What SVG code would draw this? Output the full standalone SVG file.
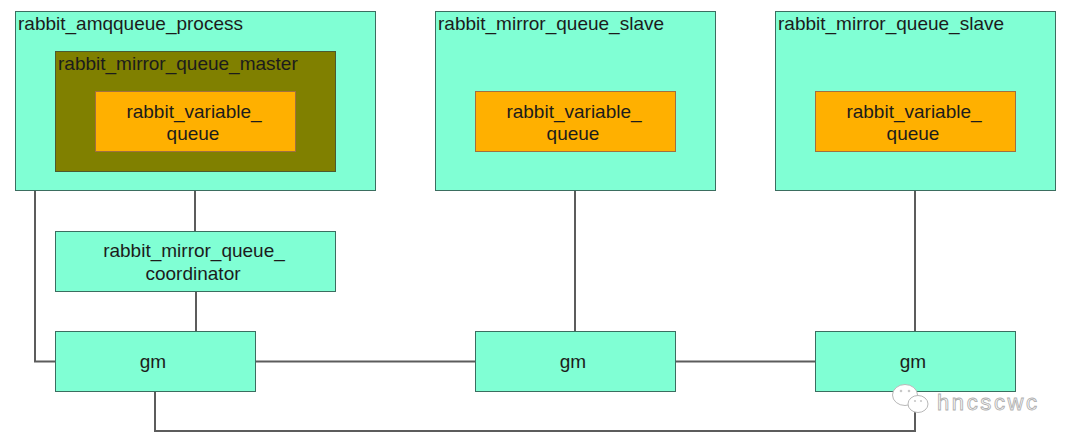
<svg xmlns="http://www.w3.org/2000/svg" width="1073" height="446" viewBox="0 0 1073 446">
<style>
.proc{fill:#80ffd4;stroke:#3b6e60;stroke-width:1}
.master{fill:#808000;stroke:#4b5a30;stroke-width:1}
.vq{fill:#ffb000;stroke:#a07040;stroke-width:1}
.t{font-family:"Liberation Sans",Arial,sans-serif;font-size:19px;fill:#1c1c1c}
.c{text-anchor:middle}
.ln{fill:none;stroke:#5c5c5c;stroke-width:2}
.wm{fill:#ffffff;stroke:#b8b8b8;stroke-width:1}
</style>
<rect width="1073" height="446" fill="#ffffff"/>
<g id="connectors">
<polyline class="ln" points="35,191 35,361.5 55,361.5"/>
<line class="ln" x1="195" y1="191" x2="195" y2="231"/>
<line class="ln" x1="196" y1="291" x2="196" y2="331"/>
<line class="ln" x1="255" y1="361.5" x2="475" y2="361.5"/>
<line class="ln" x1="675" y1="361.5" x2="815" y2="361.5"/>
<line class="ln" x1="575" y1="191" x2="575" y2="331"/>
<line class="ln" x1="915" y1="191" x2="915" y2="331"/>
<polyline class="ln" points="155,391 155,431 915,431 915,391"/>
</g>
<g id="amqqueue_process">
<rect class="proc" x="15.5" y="11.5" width="360" height="179"/>
<text class="t" x="18" y="29.5">rabbit_amqqueue_process</text>
</g>
<g id="mirror_queue_master">
<rect class="master" x="55.5" y="51.5" width="280" height="120"/>
<text class="t" x="58" y="70">rabbit_mirror_queue_master</text>
</g>
<g id="variable_queue_1">
<rect class="vq" x="95.5" y="91.5" width="200" height="60"/>
<text class="t c" x="194" y="117.5">rabbit_variable_</text>
<text class="t c" x="193" y="140">queue</text>
</g>
<g id="mirror_queue_slave_1">
<rect class="proc" x="435.5" y="11.5" width="280" height="179"/>
<text class="t" x="438" y="29.5">rabbit_mirror_queue_slave</text>
</g>
<g id="variable_queue_2">
<rect class="vq" x="475.5" y="91.5" width="200" height="60"/>
<text class="t c" x="574" y="117.5">rabbit_variable_</text>
<text class="t c" x="573" y="140">queue</text>
</g>
<g id="mirror_queue_slave_2">
<rect class="proc" x="775.5" y="11.5" width="280" height="179"/>
<text class="t" x="778" y="29.5">rabbit_mirror_queue_slave</text>
</g>
<g id="variable_queue_3">
<rect class="vq" x="815.5" y="91.5" width="200" height="60"/>
<text class="t c" x="914" y="117.5">rabbit_variable_</text>
<text class="t c" x="913" y="140">queue</text>
</g>
<g id="coordinator">
<rect class="proc" x="55.5" y="231.5" width="280" height="60"/>
<text class="t c" x="194" y="257">rabbit_mirror_queue_</text>
<text class="t c" x="193" y="280">coordinator</text>
</g>
<g id="gm_1">
<rect class="proc" x="55.5" y="331.5" width="200" height="60"/>
<text class="t c" x="153" y="367.5">gm</text>
</g>
<g id="gm_2">
<rect class="proc" x="475.5" y="331.5" width="200" height="60"/>
<text class="t c" x="573" y="367.5">gm</text>
</g>
<g id="gm_3">
<rect class="proc" x="815.5" y="331.5" width="200" height="60"/>
<text class="t c" x="913" y="367.5">gm</text>
</g>
<g id="watermark">
<ellipse class="wm" cx="905" cy="395" rx="12.5" ry="10.5"/>
<circle cx="901" cy="391" r="1.3" fill="#c8c8c8"/>
<circle cx="909" cy="391" r="1.3" fill="#c8c8c8"/>
<ellipse class="wm" cx="918" cy="404" rx="10" ry="8.5"/>
<circle cx="915" cy="401" r="1.1" fill="#c8c8c8"/>
<circle cx="921" cy="401" r="1.1" fill="#c8c8c8"/>
<text x="937" y="410" textLength="100" lengthAdjust="spacing" style="font-family:'Liberation Sans',Arial,sans-serif;font-size:22px;fill:#ffffff;stroke:#b0b0b0;stroke-width:0.9">hncscwc</text>
</g>
</svg>
